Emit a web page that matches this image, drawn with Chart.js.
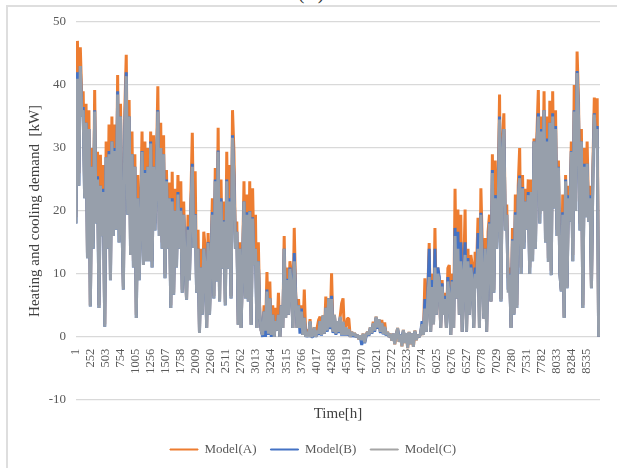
<!DOCTYPE html>
<html>
<head>
<meta charset="utf-8">
<script src="https://cdn.jsdelivr.net/npm/chart.js@4.4.1/dist/chart.umd.min.js"></script>
<style>
  html, body { margin: 0; padding: 0; background: #fff; }
  #wrap { position: relative; width: 617px; height: 468px; overflow: hidden; }
  #frame { position: absolute; left: 6px; top: 5px; right: -10px; bottom: -10px;
           border-left: 2px solid #dedede; border-top: 2px solid #dedede; }
  #caption { position: absolute; left: 0; width: 622px; top: -19px; text-align: center;
             font: 20px "Liberation Serif", serif; color: #333; }
  canvas { position: absolute; left: 0; top: 0; }
</style>
</head>
<body>
<div id="wrap">
  <div id="frame"></div>
  <div id="caption">(C)</div>
  <canvas id="chart" width="617" height="468"></canvas>
</div>
<script>
var STEP_HOURS = 24;

// x-axis tick labels (hours)
var tickHours = [1, 252, 503, 754, 1005, 1256, 1507, 1758, 2009, 2260, 2511, 2762, 3013, 3264,
  3515, 3766, 4017, 4268, 4519, 4770, 5021, 5272, 5523, 5774, 6025, 6276, 6527, 6778, 7029,
  7280, 7531, 7782, 8033, 8284, 8535];

var seriesNames = ['Model(A)', 'Model(B)', 'Model(C)'];

var modelA = [
  19, 47, 26, 46, 38, 39, 24, 37, 13, 36,
  5, 30, 15, 39.2, 20, 29.4, 5, 28.9, 17, 27.3,
  2, 31, 15, 33.7, 10, 35, 18, 33.7, 19, 41.6,
  17, 37, 19, 8, 36, 44.8, 21, 37.6, 14, 32.6,
  12, 29, 3.5, 25.7, 10, 21, 32.6, 12, 31, 13,
  30, 13, 32.6, 12, 32, 18, 27, 39.8, 17, 34,
  15, 32, 10, 26.5, 15, 24.5, 5, 26.2, 7, 23.5,
  12, 25.7, 15, 24.7, 7.5, 21.5, 12, 6, 19.4, 9.5,
  22, 32.4, 15, 26.3, 7.5, 17, 0.8, 14, 4, 16.7,
  14, 1.5, 16.5, 4, 13, 22, 6.5, 26.8, 9.5, 33.2,
  6, 25, 11.5, 21.5, 5.5, 29.4, 11.5, 27.3, 6.5, 36,
  29.4, 15, 18.3, 2, 15, 1.5, 12, 24.7, 6.5, 22.6,
  6, 24.7, 2, 23.6, 12, 19.4, 1.5, 15, 3.7, 1,
  0.3, 5, 1, 10.3, 0.5, 8.8, 0.3, 5, 0, 4.6,
  1, 7, 0, 5, 1.4, 16, 3, 11, 3.5, 12,
  10, 1.4, 17.3, 7, 1.4, 6, 1.4, 5, 0.3, 7.5,
  0, 1.2, 0, 2.8, 0, 0.3, 1.5, 0, 1.5, 2.7,
  3.2, 0.3, 3.4, 0.5, 6.4, 1, 6.1, 1.5, 10.1, 0.8,
  3.5, 0.5, 2.5, 0.8, 3.2, 5.3, 6.1, 0.3, 1.5, 2.9,
  2.9, 0, 0.8, 0.2, 0.6, 0, 0.3, -0.4, 0.2, -0.5,
  0.5, -0.9, 0.3, 0.8, 0.3, 1.5, 0.6, 2.4, 1, 3.2,
  1.5, 2.8, 0.8, 2.7, 0.5, 2.3, 0.3, 0.8, 0, 0.5,
  -0.6, 0.5, -1.2, 0.3, 1.4, -0.8, 0.4, -1.5, 1.1, -1.0,
  0.6, -1.8, 0.8, -1.2, 0.5, -1.6, 1, -0.5, 0.3, 0,
  0.5, 2, 0.3, 9.3, 0.8, 7, 14.9, 0.8, 10, 2,
  17.3, 3.5, 11, 8.8, 1.4, 9, 3.5, 7, 1.4, 10.9,
  11.4, 0.3, 10, 1.4, 23.5, 6.1, 20.2, 3.5, 19.4, 0.8,
  10, 20.2, 0.8, 14, 3.5, 13, 11.4, 1.4, 13.5, 11,
  18.9, 1.4, 23.6, 14.3, 2.9, 15.7, 0.8, 16.7, 19.4, 5.6,
  29, 7.5, 28, 15, 23.6, 38.5, 6, 31, 35.5, 17.5,
  21, 9.3, 11, 1.5, 17.3, 3.7, 22.6, 5, 24, 30,
  11, 25.7, 15, 23.5, 18.5, 25, 11, 25, 13, 31.5,
  15, 32, 39.2, 19.5, 35, 21.5, 39, 16, 35, 12.5,
  37.5, 10.5, 39, 21.5, 36, 17, 28, 10.5, 7.5, 22.6,
  3.2, 25.7, 8, 24, 20, 31, 13, 40, 21.5, 45.3,
  37.5, 18, 33, 5, 30, 20, 31, 19.5, 24, 8,
  27, 38, 31, 37.9, 0
];

var modelB = [
  18, 42, 24, 43, 35, 36.5, 22, 34, 12.5, 33,
  4.8, 27, 14, 36, 18, 25.5, 4.6, 24, 16, 23.5,
  1.6, 28.5, 14, 29.5, 9, 31, 16, 30, 17, 39,
  15, 35, 18, 7.5, 33, 42, 19.4, 35, 13, 29,
  11, 27, 3, 22, 9, 18.5, 29.5, 11.4, 26.5, 12,
  27, 12, 31, 11, 27, 16.9, 25, 36, 16, 30,
  14, 29, 9.3, 25, 14, 22, 4.6, 22, 6.7, 20,
  11, 23, 14, 20.5, 7, 19.4, 11.6, 5.9, 17.5, 9,
  20, 27.5, 14.1, 19.5, 7, 14, 0.6, 11, 3.5, 14,
  11, 1.4, 15, 3.5, 12, 19.8, 6.1, 25, 8.8, 29.6,
  5.6, 22, 10.8, 18.5, 5, 25, 10.8, 22, 6.1, 32,
  25.5, 14, 16.7, 1.9, 14, 1.4, 11, 21.5, 6.1, 19.8,
  5.6, 20, 1.9, 19, 11.4, 14, 1.4, 12, 3.5, 1,
  0, 4, 0, 7.5, 0.3, 6.1, 0, 3.5, 0, 2.5,
  1, 3.5, 0, 5, 1.4, 14, 3, 9.2, 3.5, 11,
  9, 1.4, 13.3, 6.5, 1.4, 5, 0.5, 4.5, 0.3, 3,
  0, 0.5, 0, 2.3, 0, 0, 1.2, 0, 0.8, 0.3,
  2.5, 0.2, 3.2, 0.5, 4.6, 0.8, 6.1, 1.2, 6.5, 0.6,
  3.3, 0.3, 2.3, 0.6, 3, 0.2, 2.2, 0.2, 1.4, 0.2,
  1, 0, 0.6, 0, 0.5, 0, 0.2, 0, 0, -1.3,
  0, -1.0, 0, 0.6, 0.2, 1.3, 0.5, 2, 0.8, 3,
  1.3, 2.6, 0.6, 2, 0.4, 1.4, 0.2, 0.6, 0, 0.3,
  0, 0.4, 0, 0.2, 1.2, 0, 0.3, 0, 0.9, 0,
  0.5, 0, 0.6, 0, 0.4, 0, 0.8, 0, 0.2, 0,
  0.5, 2.5, 0.3, 6, 0.8, 6.5, 14, 0.8, 9, 2,
  14, 3.5, 11, 9.5, 1.4, 8.5, 3.5, 6.5, 1.4, 9.5,
  7, 0.3, 9, 1.4, 17.3, 6.1, 16.7, 3.5, 15, 0.8,
  10, 15, 0.8, 12.5, 3.5, 11.5, 9.5, 1.4, 11, 8,
  16.5, 1.4, 19.7, 11.8, 2.9, 14, 0.8, 13, 18.2, 5.6,
  26.5, 7, 22.5, 14, 20, 35, 5.6, 29.5, 33, 16.9,
  19.4, 7.5, 10, 1.4, 15.5, 3.5, 19.8, 4.6, 22, 25.6,
  10, 23.8, 14, 21.5, 17, 23, 10, 23, 12, 31,
  14, 30.5, 35.5, 18, 33, 20, 36, 15, 31.5, 11.9,
  34, 9.8, 35.5, 20.4, 33.5, 16, 27, 10, 7.2, 19.8,
  3, 25, 7.7, 22.5, 18.3, 29.5, 12, 36, 20, 42.2,
  35.5, 16.9, 31, 4.6, 27.5, 19, 27.5, 18.3, 22.5, 7.7,
  25, 35.5, 30, 33.5, 0
];

var modelC = [
  18, 41, 24, 43, 35, 36, 22, 34, 12.5, 33,
  4.8, 27, 14, 35.8, 18, 25, 4.6, 24, 16, 23,
  1.6, 28.5, 14, 29, 9, 31, 16, 29.5, 17, 38.5,
  15, 35, 18, 7.5, 32.6, 41.4, 19.4, 35, 13, 29,
  11, 27, 3, 22, 9, 18, 29.4, 11.4, 26, 12,
  27, 12, 30.7, 11, 27, 16.9, 24.7, 35.8, 16, 30,
  14, 29, 9.3, 24.7, 14, 22, 4.6, 21.5, 6.7, 20,
  11, 22.6, 14, 20, 7, 19.4, 11.6, 5.9, 17, 9,
  20, 27, 14.1, 19.4, 7, 14, 0.6, 11, 3.5, 14,
  11, 1.4, 14.9, 3.5, 12, 19.4, 6.1, 24.7, 8.8, 29.4,
  5.6, 21.5, 10.8, 18.3, 5, 24.7, 10.8, 21.5, 6.1, 31.6,
  25, 14, 16.7, 1.9, 14, 1.4, 11, 21.5, 6.1, 19.4,
  5.6, 19.9, 1.9, 18.8, 11.4, 14, 1.4, 12, 3.5, 1,
  0.3, 4, 1, 7.2, 0.5, 6.1, 0.3, 3.5, 0, 2.5,
  1, 3.5, 0, 5, 1.4, 14, 3, 9, 3.5, 10.8,
  8, 1.4, 12, 6, 1.4, 5, 1.4, 4, 0.3, 3,
  0, 0.8, 0, 2.5, 0, 0.3, 1.5, 0, 1, 0.5,
  2.5, 0.3, 3.4, 0.5, 4.6, 1, 6.1, 1.5, 6, 0.8,
  3.5, 0.5, 2.5, 0.8, 3.2, 0.3, 2.4, 0.3, 1.5, 0.3,
  1.2, 0, 0.8, 0.2, 0.6, 0, 0.3, -0.4, 0.2, -0.5,
  0.5, -0.9, 0.3, 0.8, 0.3, 1.5, 0.6, 2.2, 1, 3.2,
  1.5, 2.8, 0.8, 2.2, 0.5, 1.6, 0.3, 0.8, 0, 0.5,
  -0.6, 0.5, -1.2, 0.3, 1.4, -0.8, 0.4, -1.5, 1.1, -1.0,
  0.6, -1.8, 0.8, -1.2, 0.5, -1.6, 1, -0.5, 0.3, 0,
  0.5, 2, 0.3, 4.5, 0.8, 6, 9.5, 0.8, 7.9, 2,
  11, 3.5, 10, 8.8, 1.4, 8, 3.5, 6, 1.4, 8.8,
  6.1, 0.3, 8.8, 1.4, 16, 6.1, 14, 3.5, 12, 0.8,
  10, 13, 0.8, 12, 3.5, 11, 8.8, 1.4, 10, 7.7,
  14, 1.4, 19.4, 8.8, 2.9, 14, 0.8, 12, 18, 5.6,
  26, 7, 22, 14, 19.4, 34.5, 5.6, 29, 33, 16.9,
  19.4, 7, 9.9, 1.4, 15.3, 3.5, 19.4, 4.6, 22, 25.2,
  10, 23.6, 14, 21.5, 17, 22.5, 10, 23, 12, 31,
  14, 30, 35, 18, 32.6, 20, 36, 15, 31, 11.9,
  34, 9.8, 35, 20.4, 33, 16, 26.9, 10, 7.2, 19.4,
  3, 24.7, 7.7, 22, 18.3, 29.4, 12, 35.8, 20, 41.9,
  35, 16.9, 31, 4.6, 27, 19, 27.5, 18.3, 22, 7.7,
  25, 35.3, 30, 33, 0
];

function toPoints(values) {
  return values.map(function (v, i) { return { x: 1 + STEP_HOURS * i, y: v }; });
}

var serif = '"Liberation Serif", "Times New Roman", serif';
var lineColors = ['#ED7D31', '#4472C4', '#979FAB'];
var legendColors = ['#ED7D31', '#4472C4', '#A5A5A5'];
var series = [modelA, modelB, modelC];

new Chart(document.getElementById('chart'), {
  type: 'line',
  data: {
    datasets: series.map(function (vals, i) {
      return {
        label: seriesNames[i],
        data: toPoints(vals),
        borderColor: lineColors[i],
        backgroundColor: legendColors[i],
        borderWidth: 3,
        borderJoinStyle: 'bevel',
        pointRadius: 0,
        tension: 0,
        order: 2 - i // grey drawn on top, orange underneath
      };
    })
  },
  options: {
    responsive: false,
    animation: false,
    parsing: false,
    normalized: true,
    layout: { padding: { left: 26, right: 17, top: 22, bottom: 2 } },
    plugins: {
      tooltip: { enabled: false },
      legend: {
        position: 'bottom',
        title: { display: true, text: '', font: { size: 1 }, padding: { top: 0, bottom: 28 } },
        labels: {
          sort: function (a, b) { return a.datasetIndex - b.datasetIndex; },
          generateLabels: function (chart) {
            var items = Chart.defaults.plugins.legend.labels.generateLabels(chart);
            items.forEach(function (it) {
              it.strokeStyle = legendColors[it.datasetIndex];
              it.fillStyle = legendColors[it.datasetIndex];
              it.lineWidth = 1;
            });
            return items;
          },
          boxWidth: 28,
          boxHeight: 1,
          padding: 14,
          color: '#595959',
          font: { family: serif, size: 13 }
        }
      }
    },
    scales: {
      x: {
        type: 'linear',
        min: 1,
        max: 8760,
        position: { y: 0 },
        grid: { display: false },
        border: { display: false },
        afterBuildTicks: function (scale) {
          scale.ticks = tickHours.map(function (h) { return { value: h }; });
        },
        ticks: {
          autoSkip: false,
          minRotation: 90,
          maxRotation: 90,
          padding: 4,
          color: '#595959',
          font: { family: serif, size: 12.5 },
          callback: function (v) { return String(v); }
        },
        title: {
          display: true,
          text: 'Time[h]',
          color: '#404040',
          font: { family: serif, size: 15 },
          padding: { top: 27, bottom: 0 }
        }
      },
      y: {
        min: -10,
        max: 50,
        afterFit: function (scale) { scale.width = 50; },
        grid: { color: '#d9d9d9', lineWidth: 1.2, drawTicks: false },
        border: { display: false },
        ticks: {
          stepSize: 10,
          padding: 10,
          color: '#595959',
          font: { family: serif, size: 13 }
        },
        title: {
          display: true,
          text: 'Heating and cooling demand  [kW]',
          color: '#404040',
          font: { family: serif, size: 15 },
          padding: { top: 0, bottom: 0 }
        }
      }
    }
  }
});
</script>
</body>
</html>
